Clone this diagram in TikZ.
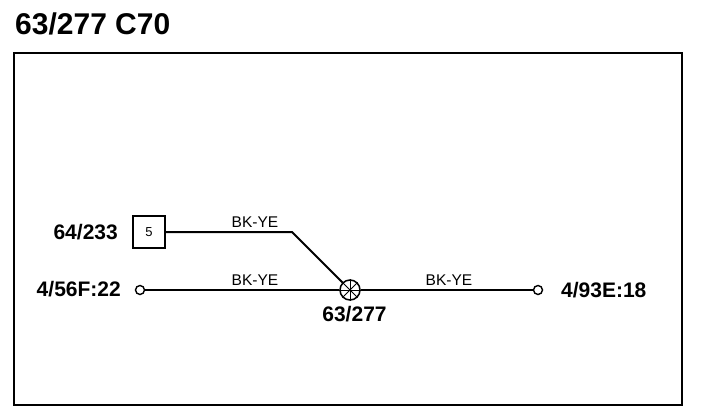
\documentclass[tikz,border=0pt]{standalone}
\usepackage{fontspec}
\setmainfont{Liberation Sans}
\usetikzlibrary{positioning}
\begin{document}
\begin{tikzpicture}[x=1pt,y=-1pt,
           title_style/.style={font=\bfseries\fontsize{30}{30}\selectfont,inner sep=0pt},
           label_style/.style={font=\bfseries\fontsize{21}{21}\selectfont,inner sep=0pt},
           wire_style/.style={font=\fontsize{15.5}{15.5}\selectfont,inner sep=0pt,above=4pt},
           term_style/.style={circle,draw=black,fill=white,line width=1.4pt,minimum size=9pt,inner sep=0pt},
           splice_style/.style={circle,draw=black,fill=white,line width=1.5pt,minimum size=20pt,inner sep=0pt},
           pin_style/.style={rectangle,draw=black,line width=2pt,minimum size=32pt,inner sep=0pt,font=\fontsize{13}{13}\selectfont},
           edge_style/.style={draw=black,line width=2pt}]
            \useasboundingbox (0,0) rectangle (704,416);
            \node[title_style,anchor=west] (title) at (15,24) {63/277 C70};
            \draw[line width=2pt] (14,53) rectangle (682,405);
            \node[pin_style] (v0) at (149,232) {5};
            \coordinate (bend) at (292,232);
            \node[term_style] (v1) at (140,290) {};
            \node[splice_style] (v2) at (350,290) {};
            \node[term_style] (v3) at (538,290) {};
            \draw[edge_style] (v0) -- (bend) -- (v2);
            \draw[edge_style] (v1) -- (v2);
            \draw[edge_style] (v2) -- (v3);
            \draw[line width=1pt] (v2.north west) -- (v2.south east);
            \draw[line width=1pt] (v2.north east) -- (v2.south west);
            \draw[line width=1pt] (v2.north) -- (v2.south);
            \draw[line width=1pt] (v2.west) -- (v2.east);
            \node[label_style,anchor=east] (l0) at (118,232) {64/233};
            \node[label_style,anchor=east] (l1) at (121,289.5) {4/56F:22};
            \node[label_style,anchor=west] (l3) at (561,290.5) {4/93E:18};
            \node[label_style,anchor=north] (l2) at (354.5,306) {63/277};
            \node[wire_style] (w0) at (255,232) {BK-YE};
            \node[wire_style] (w1) at (255,290) {BK-YE};
            \node[wire_style] (w2) at (449,290) {BK-YE};
        \end{tikzpicture}
\end{document}
